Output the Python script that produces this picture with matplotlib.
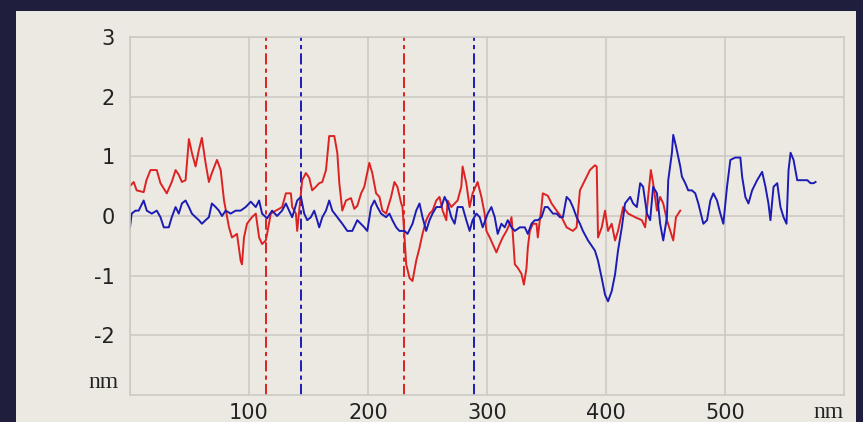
import matplotlib
matplotlib.use('Agg')
import matplotlib.pyplot as plt
from matplotlib.patches import Rectangle

# ---- data (nm) ----
red_x = [0, 3.1, 5.6, 11.5, 13.8, 17.2, 22.5, 25.6, 30.9, 35.1, 38.3, 41.0, 43.6, 46.7,
         49.5, 52.0, 55.1, 57.9, 60.4, 63.5, 66.3, 68.8, 73.1, 76.2, 79.0, 83.2, 85.7,
         89.9, 93.0, 94.1, 95.8, 98.3, 102.5, 105.7, 108.5, 111.0, 114.1, 115.2, 118.3,
         122.5, 125.3, 127.8, 131.0, 135.2, 136.3, 139.4, 140.5, 142.2, 144.7, 147.8,
         150.6, 153.1, 156.2, 159.0, 161.6, 164.7, 167.4, 171.7, 174.2, 175.9, 178.4,
         181.5, 185.7, 188.5, 191.0, 194.2, 196.9, 201.1, 203.6, 206.8, 209.6, 212.1,
         215.2, 219.4, 222.2, 224.7, 227.9, 229.0, 230.7, 232.1, 234.9, 237.4, 240.5,
         243.3, 245.8, 248.9, 251.7, 254.2, 257.4, 260.1, 262.7, 265.8, 266.9, 270.0,
         272.8, 275.3, 278.4, 279.5, 282.6, 285.4, 287.9, 292.1, 295.3, 298.0, 299.5,
         302.3, 304.8, 307.9, 310.7, 313.2, 316.4, 319.1, 320.6, 321.7, 323.4, 325.9,
         329.0, 331.0, 333.2, 334.3, 336.0, 338.5, 341.6, 342.7, 344.4, 345.8, 346.9,
         351.1, 354.3, 358.5, 362.7, 366.9, 372.2, 375.3, 378.1, 382.3, 386.5, 390.7,
         392.2, 393.3, 396.4, 399.2, 401.7, 404.8, 407.6, 410.1, 414.4, 418.6, 424.5,
         430.1, 432.9, 435.4, 437.7, 439.6, 442.8, 445.5, 448.1, 451.2, 454.0, 456.5,
         458.8, 462.4]
red_y = [0.5, 0.57, 0.43, 0.4, 0.6, 0.77, 0.77, 0.55, 0.38, 0.57, 0.77, 0.69, 0.57, 0.6,
         1.29, 1.06, 0.83, 1.11, 1.31, 0.89, 0.57, 0.72, 0.94, 0.77, 0.26, -0.19, -0.36,
         -0.3, -0.75, -0.81, -0.36, -0.13, -0.02, 0.04, -0.36, -0.47, -0.41, -0.3, 0.04,
         0.09, 0.12, 0.15, 0.38, 0.38, 0.15, 0.04, -0.25, 0.09, 0.6, 0.72,
         0.64, 0.43, 0.49, 0.55, 0.57, 0.77, 1.34, 1.34, 1.06, 0.55, 0.09,
         0.26, 0.3, 0.12, 0.17, 0.38, 0.49, 0.89, 0.72, 0.38, 0.32, 0.09,
         0.04, 0.32, 0.57, 0.49, 0.21, 0.15, -0.36, -0.81, -1.04, -1.09, -0.75,
         -0.53, -0.3, -0.07, 0.04, 0.09, 0.26, 0.32, 0.09, -0.07, 0.26, 0.15,
         0.21, 0.26, 0.49, 0.83, 0.55, 0.15, 0.38, 0.57, 0.32, 0.04, -0.25,
         -0.36, -0.47, -0.61, -0.47, -0.36, -0.25, -0.13, -0.02, -0.3, -0.81, -0.87,
         -0.97, -1.15, -0.87, -0.53, -0.25, -0.13, -0.13, -0.36, -0.07, 0.15, 0.38,
         0.34, 0.21, 0.09, -0.02, -0.19, -0.25, -0.19, 0.43, 0.6, 0.77, 0.85,
         0.83, -0.36, -0.19, 0.09, -0.25, -0.13, -0.41, -0.25, 0.15, 0.04, -0.02,
         -0.07, -0.19, 0.32, 0.77, 0.55, 0.09, 0.32, 0.21, -0.07, -0.25, -0.41,
         -0.02, 0.09]

blue_x = [0, 1.4, 4.6, 7.3, 11.5, 14.1, 18.3, 22.5, 25.6, 28.4, 32.6, 35.1, 38.3, 41.0,
          43.6, 46.7, 49.5, 52.0, 55.1, 57.9, 60.4, 63.5, 66.3, 68.8, 72.0, 74.7, 77.3,
          80.4, 84.6, 88.8, 93.0, 97.2, 101.5, 105.7, 108.5, 111.0, 115.2, 119.4, 123.6,
          127.8, 131.0, 133.7, 136.3, 140.5, 143.6, 146.4, 148.9, 152.0, 154.8, 157.3,
          159.0, 161.6, 164.7, 167.4, 170.0, 174.2, 178.4, 182.6, 186.8, 191.0, 196.9,
          199.4, 202.6, 205.4, 207.9, 211.0, 215.2, 218.0, 220.5, 223.7, 226.4, 230.7,
          233.2, 237.4, 240.5, 243.3, 245.8, 248.9, 251.7, 254.2, 257.4, 261.6, 264.4,
          266.9, 270.0, 272.8, 275.3, 279.5, 282.6, 285.4, 287.9, 291.1, 293.9, 296.4,
          300.6, 303.7, 306.5, 309.0, 312.1, 314.9, 317.4, 320.6, 323.4, 327.6, 331.8,
          334.3, 337.4, 340.2, 342.7, 345.8, 348.6, 351.1, 355.4, 358.5, 361.3, 363.8,
          366.9, 369.7, 372.2, 375.3, 378.1, 380.6, 384.9, 390.7, 393.3, 396.4, 399.2,
          401.7, 404.8, 407.6, 410.1, 413.3, 416.0, 420.3, 422.8, 425.9, 428.7, 431.2,
          434.4, 437.1, 439.6, 442.8, 445.5, 448.1, 451.2, 452.3, 455.4, 456.5, 458.8,
          462.4, 463.8, 466.6, 469.1, 472.2, 475.0, 477.6, 481.8, 484.9, 487.7, 490.2,
          493.3, 496.1, 498.6, 501.7, 504.5, 508.7, 512.9, 514.4, 517.1, 519.7, 522.8,
          527.0, 531.2, 534.0, 536.5, 538.2, 540.8, 543.9, 546.6, 549.2, 551.7, 553.4,
          555.1, 557.6, 560.7, 563.5, 569.2, 571.9, 574.4, 576.1]
blue_y = [-0.19, 0.04, 0.09, 0.09, 0.26, 0.09, 0.04, 0.09, -0.02, -0.19, -0.19, -0.02, 0.15, 0.04,
          0.21, 0.26, 0.15, 0.04, -0.02, -0.07, -0.13, -0.07, -0.02, 0.21, 0.15, 0.09, 0.0,
          0.09, 0.04, 0.09, 0.09, 0.15, 0.24, 0.15, 0.26, 0.04, -0.04, 0.09, 0.0,
          0.09, 0.21, 0.09, -0.02, 0.26, 0.32, 0.04, -0.07, -0.02, 0.09, -0.07,
          -0.19, -0.02, 0.09, 0.26, 0.09, -0.02, -0.13, -0.25, -0.25, -0.07, -0.19,
          -0.25, 0.15, 0.26, 0.15, 0.04, -0.02, 0.04, -0.07, -0.19, -0.25, -0.25,
          -0.3, -0.13, 0.09, 0.21, -0.02, -0.25, -0.07, 0.04, 0.15, 0.15, 0.32,
          0.21, -0.02, -0.13, 0.15, 0.15, -0.07, -0.25, -0.07, 0.04, -0.02, -0.19,
          0.04, 0.15, -0.02, -0.3, -0.13, -0.19, -0.07, -0.19, -0.25, -0.19, -0.19,
          -0.3, -0.13, -0.07, -0.07, -0.02, 0.15, 0.15, 0.04, 0.04, -0.02, -0.02,
          0.32, 0.26, 0.15, -0.02, -0.13, -0.25, -0.41, -0.58, -0.75, -1.04, -1.32,
          -1.43, -1.26, -0.98, -0.58, -0.19, 0.21, 0.32, 0.21, 0.15, 0.55, 0.49,
          0.04, -0.07, 0.49, 0.38, -0.13, -0.41, -0.02, 0.6, 1.06, 1.36, 1.17,
          0.83, 0.66, 0.55, 0.43, 0.43, 0.38, 0.21, -0.13, -0.07, 0.26, 0.38,
          0.26, 0.04, -0.13, 0.49, 0.94, 0.98, 0.98, 0.66, 0.32, 0.21, 0.43,
          0.6, 0.74, 0.49, 0.21, -0.07, 0.49, 0.55, 0.15, -0.02, -0.13, 0.77,
          1.06, 0.94, 0.6, 0.6, 0.6, 0.55, 0.55, 0.57]

red_marks = [114, 230]
blue_marks = [144, 289]

x_ticks = [100, 200, 300, 400, 500]
y_ticks = [-2, -1, 0, 1, 2, 3]

# ---- colours ----
frame_col = '#1f1f3d'
panel_col = '#ece9e3'
grid_col = '#cdcac3'
red_col = '#dc2222'
blue_col = '#1c1cb4'

plt.rcParams['lines.scale_dashes'] = False

fig = plt.figure(figsize=(8.63, 4.22), dpi=100)
fig.patch.set_facecolor(frame_col)
panel = Rectangle((16 / 863, 0), 840 / 863, 411 / 422, transform=fig.transFigure,
                  facecolor=panel_col, edgecolor='none', zorder=-10)
fig.add_artist(panel)

ax = fig.add_axes([130 / 863, 27 / 422, 714 / 863, 358 / 422], zorder=5)
ax.set_facecolor(panel_col)
ax.set_xlim(0, 600)
ax.set_ylim(-3, 3)
ax.set_xticks([0] + x_ticks)
ax.set_xticklabels([''] + [str(v) for v in x_ticks])
ax.set_yticks(y_ticks)
ax.set_yticklabels([str(v) for v in y_ticks])
ax.grid(True, color=grid_col, linewidth=1.2)
ax.set_axisbelow(True)
for s in ax.spines.values():
    s.set_color(grid_col)
    s.set_linewidth(1.2)
ax.tick_params(length=0, labelsize=15, labelcolor='#222222')
ax.tick_params(axis='y', pad=11)
ax.tick_params(axis='x', pad=6)

dash = (0, (8, 3, 3, 3))
for xm in red_marks:
    ax.axvline(xm, color=red_col, linewidth=1.4, linestyle=dash)
for xm in blue_marks:
    ax.axvline(xm, color=blue_col, linewidth=1.4, linestyle=dash)

ax.plot(red_x, red_y, color=red_col, linewidth=1.4)
ax.plot(blue_x, blue_y, color=blue_col, linewidth=1.4)

ax.text(-0.016, 0.034, 'nm', transform=ax.transAxes, ha='right', va='center',
        fontsize=17, family='Liberation Serif', color='#222222')
ax.text(0.978, -0.05, 'nm', transform=ax.transAxes, ha='center', va='center',
        fontsize=17, family='Liberation Serif', color='#222222')

fig.savefig('out.png', dpi=100, facecolor=frame_col)
